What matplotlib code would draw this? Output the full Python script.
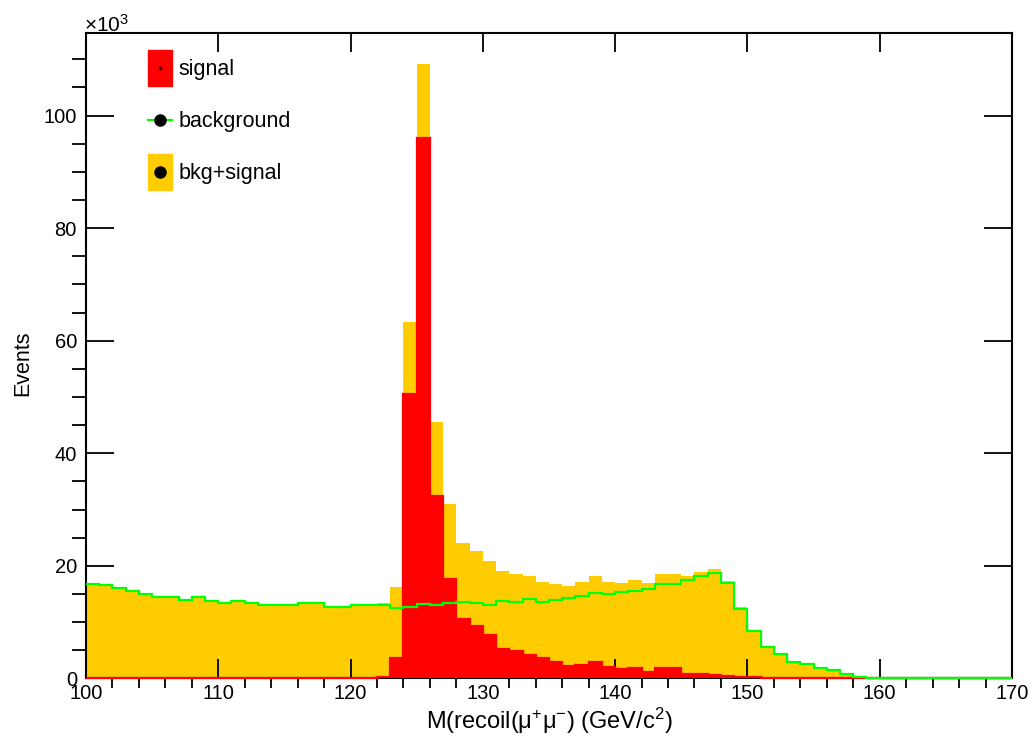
import numpy as np
import matplotlib
matplotlib.use("Agg")
import matplotlib.pyplot as plt
from matplotlib.ticker import MultipleLocator
from matplotlib.patches import Patch
from matplotlib.lines import Line2D
from matplotlib.legend_handler import HandlerTuple, HandlerLine2D

plt.rcParams['font.family'] = ['Liberation Sans', 'DejaVu Sans']
plt.rcParams['mathtext.fontset'] = 'custom'
plt.rcParams['mathtext.rm'] = 'Liberation Sans'
plt.rcParams['mathtext.it'] = 'Liberation Sans:italic'
plt.rcParams['mathtext.default'] = 'regular'

# recoil mass bins, 1 GeV wide, 100..170
edges = np.arange(100, 171, 1)

# events in units of 10^3 per bin
background = [16.8, 16.6, 16.0, 15.5, 15.0, 14.4, 14.4, 13.9, 14.4, 13.7,
              13.4, 13.8, 13.3, 13.1, 13.0, 13.1, 13.3, 13.4, 12.7, 12.7,
              13.1, 13.1, 13.0, 12.5, 12.7, 13.2, 13.1, 13.3, 13.5, 13.4,
              13.1, 13.8, 13.6, 14.1, 13.6, 13.9, 14.2, 14.7, 15.2, 15.0,
              15.4, 15.6, 15.9, 16.7, 16.7, 17.5, 18.1, 18.8, 17.0, 12.4,
              8.5, 5.5, 4.4, 2.95, 2.5, 1.8, 1.4, 0.7, 0.3, 0.0,
              0.0, 0.0, 0.0, 0.0, 0.0, 0.0, 0.0, 0.0, 0.0, 0.0]
signal = [0.0, 0.0, 0.0, 0.0, 0.0, 0.0, 0.0, 0.0, 0.0, 0.0,
          0.0, 0.0, 0.0, 0.0, 0.0, 0.0, 0.0, 0.0, 0.0, 0.0,
          0.0, 0.0, 0.3, 3.7, 50.6, 96.0, 32.4, 17.7, 10.5, 9.3,
          7.7, 5.3, 4.9, 4.1, 3.6, 2.9, 2.2, 2.4, 2.9, 2.1,
          1.6, 1.9, 1.1, 1.8, 1.8, 0.7, 0.8, 0.6, 0.35, 0.2,
          0.15, 0.08, 0.06, 0.05, 0.04, 0.03, 0.03, 0.02, 0.02, 0.0,
          0.0, 0.0, 0.0, 0.0, 0.0, 0.0, 0.0, 0.0, 0.0, 0.0]

red = '#ff0000'
yellow = '#ffcc00'
green = '#00ff00'


class CenteredLine(HandlerLine2D):
    # put line + marker in the middle of the legend box (same as the patches)
    def create_artists(self, legend, orig_handle, xdescent, ydescent,
                       width, height, fontsize, trans):
        arts = super().create_artists(legend, orig_handle, xdescent, ydescent,
                                      width, height, fontsize, trans)
        for a in arts:
            y = np.asarray(a.get_ydata(), dtype=float)
            a.set_ydata(np.full_like(y, height / 2 - ydescent))
        return arts


def main():
    bkg = np.array(background)
    sig = np.array(signal)
    total = bkg + sig

    fig = plt.figure(figsize=(10.36, 7.42), dpi=100)
    ax = fig.add_axes([0.083, 0.0858, 0.8938, 0.8691])

    ax.stairs(total, edges, fill=True, color=yellow, lw=0, zorder=1)
    # histogram outlines sit on top of the bottom frame, like ROOT draws them
    ax.stairs(sig, edges, fill=True, facecolor=red, edgecolor=red, lw=1.6,
              zorder=3, clip_on=False)
    ax.stairs(bkg, edges, baseline=None, color=green, lw=1.6, zorder=3.1,
              clip_on=False)

    ax.set_xlim(100, 170)
    ax.set_ylim(0, 114.6)
    ax.xaxis.set_major_locator(MultipleLocator(10))
    ax.xaxis.set_minor_locator(MultipleLocator(2))
    ax.yaxis.set_major_locator(MultipleLocator(20))
    ax.yaxis.set_minor_locator(MultipleLocator(5))
    ax.tick_params(direction='in', top=True, right=True, labelsize=14.5, width=1.3)
    ax.tick_params(axis='x', which='major', length=14, pad=4)
    ax.tick_params(axis='x', which='minor', length=7, width=1.3)
    ax.tick_params(axis='y', which='major', length=20.5, pad=6.5)
    ax.tick_params(axis='y', which='minor', length=10, width=1.3)
    for s in ax.spines.values():
        s.set_linewidth(1.5)

    ax.set_xlabel(r'M(recoil(μ$^{+}$μ$^{-}$) (GeV/c$^{2}$)', fontsize=17)
    ax.xaxis.set_label_coords(0.5, -0.042)
    ax.set_ylabel('Events', fontsize=15.5)
    ax.yaxis.set_label_coords(-0.057, 0.489)
    fig.text(84 / 1036, 1 - 32 / 742, r'$\times10^{3}$', fontsize=15, va='baseline')

    h_sig = (Patch(facecolor=red, edgecolor=red),
             Line2D([], [], ls='none', marker='o', color='black', markersize=1.5))
    h_bkg = Line2D([], [], color=green, lw=1.6, marker='o', markersize=8,
                   markerfacecolor='black', markeredgecolor='black')
    h_tot = (Patch(facecolor=yellow, edgecolor=yellow),
             Line2D([], [], ls='none', marker='o', color='black', markersize=8))
    ax.legend([h_sig, h_bkg, h_tot], ['signal', 'background', 'bkg+signal'],
              handler_map={tuple: HandlerTuple(ndivide=1, pad=0),
                           Line2D: CenteredLine()},
              loc='upper left', bbox_to_anchor=(0.067, 0.975), frameon=False,
              fontsize=15.5, handlelength=1.1, handleheight=2.26,
              handletextpad=0.3, labelspacing=0.7, borderpad=0, borderaxespad=0,
              numpoints=1)

    fig.savefig('out.png', dpi=100)


if __name__ == "__main__":
    main()
